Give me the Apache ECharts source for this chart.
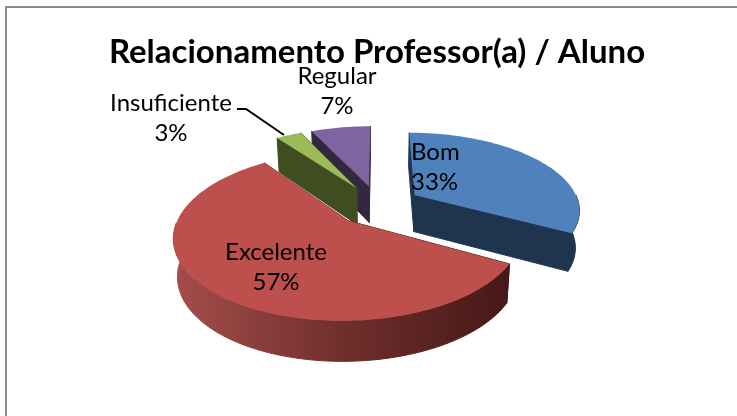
<!DOCTYPE html>
<html>
<head>
<meta charset="utf-8">
<style>
  html, body { margin: 0; padding: 0; background: #fff; }
  #chart { width: 737px; height: 416px; }
</style>
<script src="https://cdn.jsdelivr.net/npm/echarts@6/dist/echarts.min.js"></script>
</head>
<body>
<div id="chart"></div>
<script>
  // chart data
  var categories = ['Bom', 'Excelente', 'Insuficiente', 'Regular'];
  var values = [33, 57, 3, 7];
  var topColors = ['#4f81bd', '#bd4f4c', '#9bbb59', '#8064a2'];
  var sideColors = ['#1f344f', '#6b2a28', '#3f4d20', '#33283f'];
  var labelPos = [[411, 167, 'left'], [276, 267, 'center'], [171, 118, 'center'], [337, 91, 'center']];
  var drawOrder = [3, 2, 0, 1];

  // perspective of the flattened disc
  var cx = 378, cy = 205, R = 165, explode = 43.5, tilt = 0.463, persp = 0.175, depth = 37;
  var total = values.reduce(function (a, b) { return a + b; }, 0);

  function project(u, v, low) {
    var s = 1 / (1 + persp * v);
    var x = u * R * s;
    var y = -v * R * tilt * s;
    if (low) {
      x = x * 0.98;
      y = y + depth + 3 * (-v);
    }
    return [cx + x, cy + y];
  }

  function sliceChildren(i) {
    var before = 0;
    for (var k = 0; k < i; k++) before += values[k];
    var a0 = before / total * Math.PI * 2;
    var a1 = (before + values[i]) / total * Math.PI * 2;
    var mid = (a0 + a1) / 2;
    var ou = Math.sin(mid) * explode / R, ov = Math.cos(mid) * explode / R;
    var apex = [ou, ov];
    var arc = [], frontArc = [];
    var steps = Math.max(4, Math.round((a1 - a0) * 30));
    for (var s = 0; s <= steps; s++) {
      var a = a0 + (a1 - a0) * s / steps;
      var pt = [ou + Math.sin(a), ov + Math.cos(a)];
      arc.push(pt);
      // only the front of the rim is seen
      if (Math.cos(a) <= 0) frontArc.push(pt);
    }
    var sideFill = sideColors[i];
    if (i === 1) {
      sideFill = new echarts.graphic.LinearGradient(172, 0, 512, 0, [
        { offset: 0, color: '#a54e4b' },
        { offset: 0.5, color: '#702f2c' },
        { offset: 1, color: '#451817' }
      ], true);
    }
    function wall(pts) {
      var upper = pts.map(function (p) { return project(p[0], p[1]); });
      var lower = pts.map(function (p) { return project(p[0], p[1], true); }).reverse();
      // thin stroke closes the seam between neighbouring walls
      return { type: 'polygon', shape: { points: upper.concat(lower) }, style: { fill: sideFill, stroke: sideFill, lineWidth: 1 } };
    }
    var top = {
      type: 'polygon',
      shape: { points: [apex].concat(arc).map(function (p) { return project(p[0], p[1]); }) },
      style: { fill: topColors[i] }
    };
    var children = [wall([apex, arc[0]]), wall([arc[arc.length - 1], apex])];
    if (frontArc.length > 1) children.push(wall(frontArc));
    children.push(top);
    return children;
  }

  function renderSlice(params) {
    var i = drawOrder[params.dataIndex];
    return { type: 'group', children: sliceChildren(i) };
  }

  var chart = echarts.init(document.getElementById('chart'), null, { renderer: 'canvas' });
  var fontName = 'Lato, "Liberation Sans", sans-serif';

  chart.setOption({
    animation: false,
    backgroundColor: '#ffffff',
    title: {
      text: 'Relacionamento Professor(a) / Aluno',
      left: 372,
      top: 31,
      textAlign: 'center',
      textStyle: { fontFamily: fontName, fontSize: 33, fontWeight: 'bold', color: '#000' }
    },
    graphic: [
      { type: 'rect', z: 0, shape: { x: 6, y: 7, width: 900, height: 600 }, style: { fill: '#fff', stroke: '#8c8c8c', lineWidth: 2 } },
      { type: 'polyline', z: 5, shape: { points: [[237, 109], [246, 109], [284, 135]] }, style: { fill: null, stroke: '#000', lineWidth: 2 } }
    ],
    series: [
      {
        type: 'custom',
        coordinateSystem: 'none',
        z: 2,
        silent: true,
        data: drawOrder.map(function (i) { return values[i]; }),
        renderItem: renderSlice
      },
      {
        // labels above the slices
        type: 'custom',
        coordinateSystem: 'none',
        z: 6,
        silent: true,
        data: values,
        renderItem: function (params) {
          var i = params.dataIndex;
          return {
            type: 'text',
            style: {
              x: labelPos[i][0],
              y: labelPos[i][1],
              text: categories[i] + '\n' + Math.round(values[i] / total * 100) + '%',
              fill: '#000',
              font: '24px ' + fontName,
              lineHeight: 30,
              align: labelPos[i][2],
              verticalAlign: 'middle'
            }
          };
        }
      }
    ]
  });
</script>
</body>
</html>
